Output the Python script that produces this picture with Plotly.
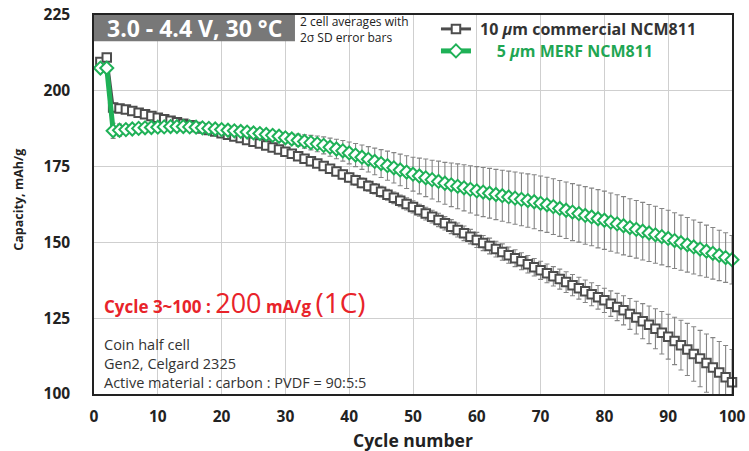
import plotly.graph_objects as go

cycles = list(range(1, 101))

commercial = [
    209.5, 211.0, 194.5, 194.2, 193.8, 193.3, 192.8, 192.3, 191.7, 191.1,
    190.6, 190.1, 189.6, 189.1, 188.6, 188.1, 187.6, 187.1, 186.6, 186.0,
    185.5, 184.9, 184.4, 183.8, 183.2, 182.6, 182.0, 181.3, 180.6, 179.9,
    179.2, 178.4, 177.6, 176.8, 176.0, 175.2, 174.3, 173.4, 172.4, 171.4,
    170.5, 169.6, 168.6, 167.7, 166.7, 165.7, 164.7, 163.7, 162.7, 161.7,
    160.6, 159.5, 158.5, 157.4, 156.3, 155.2, 154.1, 153.0, 151.9, 150.8,
    149.8, 148.8, 147.8, 146.8, 145.8, 144.8, 143.8, 142.8, 141.8, 140.8,
    139.8, 138.8, 137.9, 136.9, 135.9, 134.9, 133.9, 132.9, 131.9, 130.9,
    129.8, 128.7, 127.6, 126.4, 125.2, 124.0, 122.8, 121.5, 120.2, 118.9,
    117.5, 116.1, 114.7, 113.2, 111.7, 110.2, 108.7, 107.1, 105.5, 103.9,
]
commercial_err = [
    1.0, 1.0, 1.5, 1.2, 1.0, 1.0, 1.0, 1.0, 1.0, 1.0,
    1.0, 1.0, 1.0, 1.0, 1.0, 1.0, 1.0, 1.0, 1.0, 1.0,
    1.0, 1.0, 1.0, 1.0, 1.0, 1.0, 1.0, 1.0, 1.0, 1.0,
    1.1, 1.1, 1.2, 1.2, 1.3, 1.3, 1.4, 1.4, 1.5, 1.5,
    1.6, 1.6, 1.7, 1.7, 1.8, 1.8, 1.9, 1.9, 2.0, 2.0,
    2.0, 2.1, 2.1, 2.2, 2.2, 2.3, 2.3, 2.4, 2.4, 2.5,
    2.5, 2.6, 2.6, 2.7, 2.7, 2.8, 2.8, 2.9, 2.9, 3.0,
    3.1, 3.2, 3.3, 3.4, 3.5, 3.6, 3.7, 3.8, 3.9, 4.0,
    4.2, 4.5, 4.8, 5.1, 5.4, 5.8, 6.2, 6.6, 7.0, 7.4,
    7.8, 8.2, 8.6, 9.0, 9.3, 9.6, 9.9, 10.2, 10.5, 10.8,
]
merf = [
    207.5, 207.5, 186.8, 187.0, 187.2, 187.4, 187.6, 187.8, 187.9, 188.0,
    188.1, 188.2, 188.2, 188.2, 188.1, 188.0, 187.8, 187.6, 187.4, 187.2,
    187.0, 186.8, 186.6, 186.4, 186.1, 185.9, 185.6, 185.3, 185.0, 184.5,
    184.1, 183.7, 183.3, 182.9, 182.5, 182.0, 181.4, 180.8, 180.2, 179.5,
    178.8, 178.1, 177.4, 176.7, 176.0, 175.3, 174.6, 173.9, 173.2, 172.5,
    171.9, 171.3, 170.7, 170.1, 169.5, 169.0, 168.5, 168.0, 167.5, 167.0,
    166.6, 166.2, 165.8, 165.4, 165.0, 164.6, 164.2, 163.8, 163.4, 162.9,
    162.4, 161.8, 161.2, 160.6, 160.0, 159.5, 158.9, 158.4, 157.8, 157.3,
    156.7, 156.1, 155.5, 154.9, 154.3, 153.7, 153.1, 152.5, 151.9, 151.3,
    150.6, 149.9, 149.2, 148.5, 147.8, 147.1, 146.4, 145.7, 145.0, 144.3,
]
merf_err = [
    1.0, 1.0, 2.5, 2.0, 1.5, 1.5, 1.2, 1.2, 1.0, 1.0,
    1.0, 1.0, 1.0, 1.0, 1.0, 1.0, 1.0, 1.0, 1.0, 1.0,
    1.0, 1.0, 1.1, 1.1, 1.2, 1.2, 1.3, 1.4, 1.5, 1.6,
    1.8, 2.0, 2.2, 2.4, 2.6, 2.8, 3.0, 3.2, 3.4, 3.6,
    3.8, 4.0, 4.2, 4.4, 4.6, 4.8, 5.0, 5.2, 5.4, 5.6,
    5.9, 6.2, 6.4, 6.7, 6.9, 7.2, 7.4, 7.6, 7.8, 8.0,
    8.1, 8.2, 8.3, 8.4, 8.5, 8.6, 8.7, 8.8, 8.9, 9.0,
    9.1, 9.2, 9.2, 9.3, 9.4, 9.4, 9.5, 9.5, 9.6, 9.6,
    9.6, 9.6, 9.6, 9.5, 9.5, 9.5, 9.4, 9.4, 9.3, 9.3,
    9.2, 9.1, 9.0, 8.9, 8.8, 8.6, 8.5, 8.3, 8.2, 8.0,
]

x_ticks = [0, 10, 20, 30, 40, 50, 60, 70, 80, 90, 100]
y_ticks = [100, 125, 150, 175, 200, 225]

GRAY = "#4d4d4d"
GREEN = "#1fb157"
FONT = "Open Sans"

fig = go.Figure()


def add_series(y, err, color, name, symbol, msize, lwidth, legend):
    fig.add_trace(go.Scatter(
        x=cycles, y=y, mode="markers", showlegend=False, hoverinfo="skip",
        marker=dict(size=1, color="rgba(0,0,0,0)"),
        error_y=dict(type="data", array=err, visible=True, color="#858585",
                     thickness=1.1, width=2.5),
        cliponaxis=True,
    ))
    fig.add_trace(go.Scatter(
        x=cycles, y=y, mode="lines+markers", name=name, legend=legend,
        line=dict(color=color, width=lwidth),
        marker=dict(symbol=symbol, size=msize, color="white",
                    line=dict(color=color, width=2)),
        cliponaxis=False,
    ))


add_series(commercial, commercial_err, GRAY,
           " 10 <i>μ</i>m commercial NCM811", "square", 8.5, 3, "legend")
add_series(merf, merf_err, GREEN,
           "<span style='color:#1fa653'>     5 <i>μ</i>m MERF NCM811</span>",
           "diamond", 10, 5, "legend2")

# white top strip behind header texts (covers grid)
fig.add_shape(type="rect", xref="paper", yref="paper", x0=0.31, x1=1, y0=0.931, y1=1,
              fillcolor="white", line_width=0, layer="between")
fig.add_shape(type="rect", xref="paper", yref="paper", x0=0.51, x1=1, y0=0.878, y1=1,
              fillcolor="white", line_width=0, layer="between")
# gray title box
fig.add_shape(type="rect", xref="paper", yref="paper", x0=0, x1=0.315, y0=0.931, y1=1,
              fillcolor="#787878", line_width=0, layer="above")

fig.add_annotation(xref="paper", yref="paper", x=0.157, y=0.966, text="<b>3.0 - 4.4 V, 30 °C</b>",
                   showarrow=False, font=dict(family=FONT, size=23, color="white"),
                   xanchor="center", yanchor="middle")
fig.add_annotation(xref="paper", yref="paper", x=0.32, y=0.962,
                   text="2 cell averages with<br>2σ SD error bars", align="left",
                   showarrow=False, font=dict(family=FONT, size=12, color="#222"),
                   xanchor="left", yanchor="middle")

fig.add_annotation(xref="paper", yref="paper", x=0.012, y=0.243,
                   text="<b>Cycle 3~100 : </b><span style='font-size:27px'>200</span>"
                        "<b> mA/g </b><span style='font-size:28px'>(1C)</span>",
                   showarrow=False, font=dict(family=FONT, size=17, color="#e8232a"),
                   xanchor="left", yanchor="middle")
fig.add_annotation(xref="paper", yref="paper", x=0.012, y=0.08,
                   text="Coin half cell<br>Gen2, Celgard 2325<br>Active material : carbon : PVDF = 90:5:5",
                   align="left", showarrow=False,
                   font=dict(family=FONT, size=14.5, color="#333"),
                   xanchor="left", yanchor="middle")

fig.add_annotation(xref="paper", yref="paper", x=-0.118, y=0.512, text="<b>Capacity, mAh/g</b>",
                   textangle=-90, showarrow=False, font=dict(family=FONT, size=12.5, color="#222"),
                   xanchor="center", yanchor="middle")
fig.add_annotation(xref="paper", yref="paper", x=0.5, y=-0.121, text="<b>Cycle number</b>",
                   showarrow=False, font=dict(family=FONT, size=17.5, color="#222"),
                   xanchor="center", yanchor="middle")

fig.update_xaxes(range=[0, 100], tickvals=x_ticks, showgrid=True, gridcolor="#cfcfcf",
                 gridwidth=1, showline=True, linecolor="#222", linewidth=1.5, mirror=True,
                 zeroline=False, ticks="", ticklabelstandoff=8, automargin=False,
                 tickfont=dict(family=FONT, size=15.5, color="#222", weight="bold"))
fig.update_yaxes(range=[100, 225], tickvals=y_ticks, showgrid=True, gridcolor="#cfcfcf",
                 gridwidth=1, showline=True, linecolor="#222", linewidth=1.5, mirror=True,
                 zeroline=False, ticks="", ticklabelstandoff=19, automargin=False,
                 tickfont=dict(family=FONT, size=15.5, color="#222", weight="bold"))

legend_common = dict(xanchor="left", yanchor="middle", bgcolor="rgba(0,0,0,0)",
                     itemwidth=30, borderwidth=0)
fig.update_layout(
    width=749, height=451,
    margin=dict(l=94, r=17, t=15, b=57, autoexpand=False),
    plot_bgcolor="white", paper_bgcolor="white",
    legend=dict(x=0.536, y=0.963,
                font=dict(family=FONT, size=16, color="#333", weight="bold"), **legend_common),
    legend2=dict(x=0.536, y=0.905,
                 font=dict(family=FONT, size=16, color="#333", weight="bold"), **legend_common),
    font=dict(family=FONT),
)

fig.write_html("out.html")
